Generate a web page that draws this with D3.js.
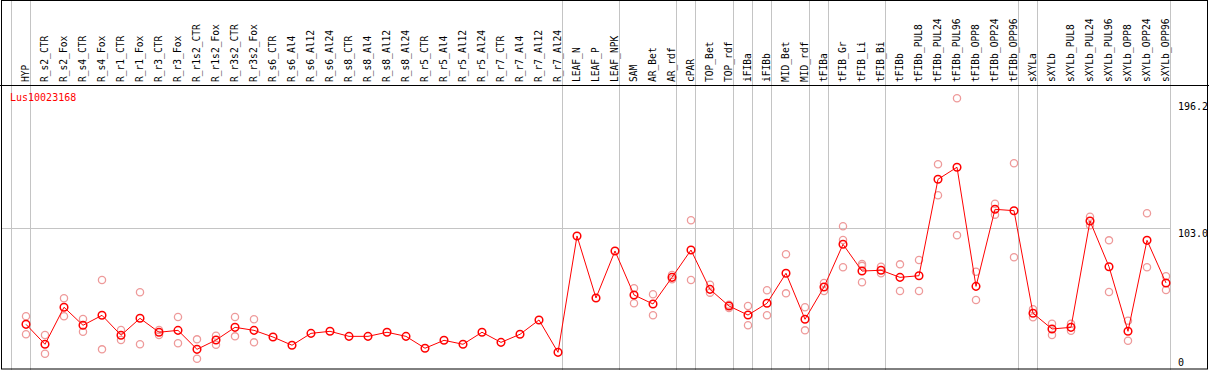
<!DOCTYPE html>
<html>
<head>
<meta charset="utf-8">
<script src="https://cdn.jsdelivr.net/npm/d3@7"></script>
<style>
	body { margin: 0; background: #ffffff; }
	svg { display: block; }
	text { font-family: "DejaVu Sans Mono", monospace; }
</style>
</head>
<body>
<div id="chart"></div>
<script>
const geneName = 'Lus10023168';

const samples = ['HYP', 'R_s2_CTR', 'R_s2_Fox', 'R_s4_CTR', 'R_s4_Fox', 'R_r1_CTR', 'R_r1_Fox',
	'R_r3_CTR', 'R_r3_Fox', 'R_r1s2_CTR', 'R_r1s2_Fox', 'R_r3s2_CTR', 'R_r3s2_Fox',
	'R_s6_CTR', 'R_s6_Al4', 'R_s6_Al12', 'R_s6_Al24', 'R_s8_CTR', 'R_s8_Al4', 'R_s8_Al12', 'R_s8_Al24',
	'R_r5_CTR', 'R_r5_Al4', 'R_r5_Al12', 'R_r5_Al24', 'R_r7_CTR', 'R_r7_Al4', 'R_r7_Al12', 'R_r7_Al24',
	'LEAF_N', 'LEAF_P', 'LEAF_NPK', 'SAM', 'AR_Bet', 'AR_rdf', 'cPAR', 'TOP_Bet', 'TOP_rdf',
	'iFIBa', 'iFIBb', 'MID_Bet', 'MID_rdf', 'tFIBa', 'tFIB_Gr', 'tFIB_Li', 'tFIB_Bi', 'tFIBb',
	'tFIBb_PUL8', 'tFIBb_PUL24', 'tFIBb_PUL96', 'tFIBb_OPP8', 'tFIBb_OPP24', 'tFIBb_OPP96',
	'sXYLa', 'sXYLb', 'sXYLb_PUL8', 'sXYLb_PUL24', 'sXYLb_PUL96', 'sXYLb_OPP8', 'sXYLb_OPP24', 'sXYLb_OPP96'];

// mean expression per sample
const means = [32.7, 18.1, 45.2, 32.0, 39.3, 24.7, 37.1, 26.9, 28.3, 14.4, 21.2, 30.5, 28.3,
	23.4, 17.4, 26.1, 27.6, 23.9, 23.9, 26.9, 23.9, 15.2, 21.0, 18.1, 26.9, 19.5, 25.4, 35.9, 12.2,
	97.4, 52.0, 86.4, 54.2, 47.6, 67.1, 87.1, 58.3, 46.1, 39.5, 48.1, 70.1, 36.4, 60.0, 91.3, 71.7,
	72.3, 67.1, 68.3, 138.9, 147.7, 60.5, 116.9, 115.9, 40.8, 29.3, 30.5, 108.3, 74.9, 27.6, 94.2, 63.0];

// replicate values per sample
const replicates = [
	[38.6, 25.4], [24.9, 11.2], [51.8, 38.6], [36.6, 27.3], [65.2, 14.4], [28.6, 21.2], [56.2, 18.1],
	[28.6, 24.9], [38.1, 18.8], [21.7, 7.5], [24.4, 17.8], [38.1, 23.9], [36.4, 19.5],
	[], [], [], [], [], [], [], [], [], [], [], [], [], [], [], [],
	[], [], [], [59.1, 48.1], [54.7, 39.3], [65.7, 68.8], [108.9, 65.2], [61.7, 55.9], [47.1, 44.7],
	[46.1, 32.0], [57.6, 39.3], [84.0, 55.4], [45.2, 28.3], [57.1, 63.0], [104.5, 94.4, 74.5],
	[76.9, 63.5, 75.5], [74.9, 70.1], [76.6, 57.1], [79.8, 57.1], [149.9, 127.2], [198.2, 97.9],
	[71.2, 50.5], [121.0, 113.0], [150.6, 81.8], [43.7, 37.8], [33.2, 24.9], [33.2, 28.0],
	[111.5, 105.2], [94.2, 56.4], [35.4, 20.7], [114.0, 74.5], [67.9, 57.8]];

// samples that open a new tissue group (gray separator on their left)
const groupStarts = ['HYP', 'R_s2_CTR', 'LEAF_N', 'SAM', 'cPAR', 'TOP_Bet', 'iFIBa', 'iFIBb',
	'MID_Bet', 'tFIBa', 'tFIB_Gr', 'tFIBb', 'sXYLa', 'sXYLb'];

const tickValues = [0, 103.0, 196.2];
const tickLabels = ['0', '103.0', '196.2'];
const gridValues = [103.0];

const width = 1209;
const height = 370;
const headerBottom = 85;
const plotRight = 1171;

var svg = d3.select('#chart')
	.append('svg')
	.attr('width', width)
	.attr('height', height);

svg.append('rect')
	.attr('width', width)
	.attr('height', height)
	.attr('fill', '#ffffff');

var xScale = d3.scaleBand()
	.domain(samples)
	.range([12, plotRight])
	.paddingInner(0)
	.paddingOuter(0);

const px = d => Math.round(xScale(d) + 14);

var yScale = d3.scaleLinear()
	.domain([0, 196.2])
	.range([369, 101]);

// horizontal grid
svg.append('g')
	.selectAll('line')
	.data(gridValues)
	.enter()
	.append('line')
	.attr('x1', 1)
	.attr('x2', plotRight)
	.attr('y1', d => Math.round(yScale(d)) + 0.5)
	.attr('y2', d => Math.round(yScale(d)) + 0.5)
	.attr('stroke', '#c4c4c4');

// group separators, full height
svg.append('g')
	.selectAll('line')
	.data(groupStarts.map(d => xScale(d)).concat([plotRight]))
	.enter()
	.append('line')
	.attr('x1', d => Math.round(d) - 0.5)
	.attr('x2', d => Math.round(d) - 0.5)
	.attr('y1', 0)
	.attr('y2', height)
	.attr('stroke', '#c4c4c4');

// header labels
svg.append('g')
	.selectAll('text')
	.data(samples)
	.enter()
	.append('text')
	.attr('transform', d => `translate(${px(d) + 2.5}, 82) rotate(-90)`)
	.attr('font-size', '9.6px')
	.attr('fill', '#000000')
	.text(d => d);

// header separator and border
svg.append('line')
	.attr('x1', 0)
	.attr('x2', width)
	.attr('y1', headerBottom + 0.5)
	.attr('y2', headerBottom + 0.5)
	.attr('stroke', '#000000');

svg.append('rect')
	.attr('x', 1.5)
	.attr('y', 0.5)
	.attr('width', 1206)
	.attr('height', 368.5)
	.attr('fill', 'none')
	.attr('stroke', '#000000');

// y tick labels on the right
svg.append('g')
	.selectAll('text')
	.data(tickValues)
	.enter()
	.append('text')
	.attr('x', 1178)
	.attr('y', d => Math.min(yScale(d) + 8.5, 366))
	.attr('font-size', '10px')
	.attr('fill', '#000000')
	.text((d, i) => tickLabels[i]);

svg.append('text')
	.attr('x', 10)
	.attr('y', 101)
	.attr('font-size', '10px')
	.attr('fill', '#ff0000')
	.text(geneName);

// replicates
var repData = [];
samples.forEach((s, i) => replicates[i].forEach(v => repData.push([s, v])));

svg.append('g')
	.selectAll('circle')
	.data(repData)
	.enter()
	.append('circle')
	.attr('cx', d => px(d[0]))
	.attr('cy', d => yScale(d[1]))
	.attr('r', 3.6)
	.attr('fill', 'none')
	.attr('stroke', '#ee9a9a')
	.attr('stroke-width', 1.3);

// mean line
var line = d3.line()
	.x((d, i) => px(samples[i]))
	.y(d => yScale(d));

svg.append('path')
	.datum(means)
	.attr('d', line)
	.attr('fill', 'none')
	.attr('stroke', '#ff0000')
	.attr('stroke-width', 1);

svg.append('g')
	.selectAll('circle')
	.data(means)
	.enter()
	.append('circle')
	.attr('cx', (d, i) => px(samples[i]))
	.attr('cy', d => yScale(d))
	.attr('r', 3.8)
	.attr('fill', 'none')
	.attr('stroke', '#ff0000')
	.attr('stroke-width', 1.5);
</script>
</body>
</html>
